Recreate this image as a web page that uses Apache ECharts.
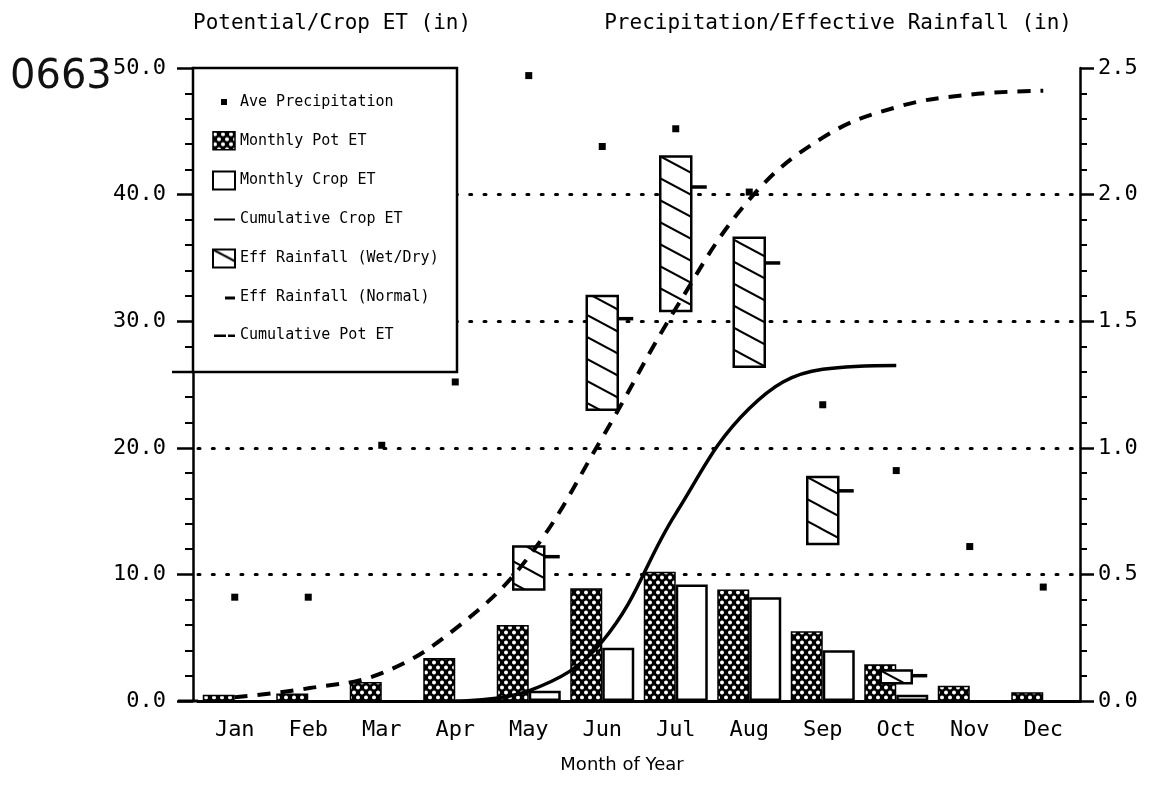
<!DOCTYPE html>
<html>
<head>
<meta charset="utf-8">
<script src="https://cdn.jsdelivr.net/npm/echarts@6/dist/echarts.min.js"></script>
<style>
html, body { margin: 0; padding: 0; background: #fff; }
#main { width: 1151px; height: 797px; }
</style>
</head>
<body>
<div id="main"></div>
<script>
// values
var months = ['Jan', 'Feb', 'Mar', 'Apr', 'May', 'Jun', 'Jul', 'Aug', 'Sep', 'Oct', 'Nov', 'Dec'];
var avePrecip = [0.41, 0.41, 1.01, 1.26, 2.47, 2.19, 2.26, 2.01, 1.17, 0.91, 0.61, 0.45];
var potET = [0.5, 0.6, 1.5, 3.4, 6.0, 8.9, 10.2, 8.8, 5.5, 2.9, 1.2, 0.7];
var cropET = [null, null, null, null, 0.8, 4.2, 9.2, 8.2, 4.0, 0.5, null, null];
var cumCropET = [null, null, null, 0, 0.8, 4.7, 14.8, 23.1, 26.2, 26.5, null, null];
var cumPotET = [0.3, 1.0, 2.2, 5.7, 11.4, 20.8, 31.0, 39.6, 44.5, 46.9, 47.9, 48.2];
var effLow = [null, null, null, null, 0.44, 1.15, 1.54, 1.32, 0.62, 0.07, null, null];
var effHigh = [null, null, null, null, 0.61, 1.60, 2.15, 1.83, 0.885, 0.12, null, null];
var effNormal = [null, null, null, null, 0.57, 1.51, 2.03, 1.73, 0.83, 0.10, null, null];

var GRID = { left: 198, right: 71, top: 68, bottom: 96 };
var MONO = 'DejaVu Sans Mono';

// black cross-hatch with white holes
function dotPattern() {
    var c = document.createElement('canvas');
    c.width = 8; c.height = 10;
    var g = c.getContext('2d');
    g.fillStyle = '#000';
    g.fillRect(0, 0, 8, 10);
    g.fillStyle = '#fff';
    g.beginPath(); g.arc(2, 2.5, 2, 0, Math.PI * 2); g.fill();
    g.beginPath(); g.arc(6, 7.5, 2, 0, Math.PI * 2); g.fill();
    return { image: c, repeat: 'repeat' };
}

// diagonal hatch, lines falling to the right
function hatchPattern() {
    var c = document.createElement('canvas');
    c.width = 41; c.height = 22;
    var g = c.getContext('2d');
    g.fillStyle = '#fff';
    g.fillRect(0, 0, 41, 22);
    g.strokeStyle = '#000';
    g.lineWidth = 2;
    [-22, 0, 22].forEach(function (d) {
        g.beginPath();
        g.moveTo(-41, -22 + d);
        g.lineTo(82, 44 + d);
        g.stroke();
    });
    return { image: c, repeat: 'repeat' };
}

var dots = dotPattern();
var hatch = hatchPattern();

var effData = [];
effLow.forEach(function (v, i) {
    if (v != null) effData.push([i, v, effHigh[i]]);
});

var box = 'M0,0h.01v.01h-.01z M22,18h.01v.01h-.01z ';

var chart = echarts.init(document.getElementById('main'));
chart.setOption({
    backgroundColor: '#fff',
    animation: false,
    grid: GRID,
    legend: {
        orient: 'vertical',
        left: 212,
        top: 93,
        padding: 0,
        itemWidth: 22,
        itemHeight: 18,
        itemGap: 20,
        itemTextGap: 5,
        selectedMode: false,
        z: 10,
        textStyle: { fontFamily: MONO, fontSize: 15, color: '#000' },
        data: [
            { name: 'Ave Precipitation', icon: 'path://' + box + 'M8,6h6v6h-6z', itemStyle: { color: '#000', borderWidth: 0 } },
            { name: 'Monthly Pot ET', icon: 'rect', itemStyle: { color: dots, borderColor: '#000', borderWidth: 1.5 } },
            { name: 'Monthly Crop ET', icon: 'rect', itemStyle: { color: '#fff', borderColor: '#000', borderWidth: 2 } },
            { name: 'Cumulative Crop ET', icon: 'path://' + box + 'M1,8h21v2h-21z', itemStyle: { color: '#000', borderWidth: 0 } },
            { name: 'Eff Rainfall (Wet/Dry)', icon: 'rect', itemStyle: { color: hatch, borderColor: '#000', borderWidth: 2 } },
            { name: 'Eff Rainfall (Normal)', icon: 'path://' + box + 'M12,8h10v3h-10z', itemStyle: { color: '#000', borderWidth: 0 } },
            { name: 'Cumulative Pot ET', icon: 'path://' + box + 'M1,8h12v2.5h-12z M15,8h7v2.5h-7z', itemStyle: { color: '#000', borderWidth: 0 } }
        ]
    },
    xAxis: [{
        type: 'category',
        data: months,
        name: 'Month of Year',
        nameLocation: 'middle',
        nameGap: 55,
        nameTextStyle: { fontFamily: 'DejaVu Sans', fontSize: 18, color: '#000', padding: [0, 34, 0, 0] },
        axisLine: { lineStyle: { color: '#000', width: 3 } },
        axisTick: { show: false },
        axisLabel: { fontFamily: MONO, fontSize: 22, color: '#000', margin: 18 }
    }, {
        type: 'category',
        data: months,
        position: 'top',
        axisLine: { lineStyle: { color: '#000', width: 2.5 } },
        axisTick: { show: false },
        axisLabel: { show: false }
    }],
    yAxis: [{
        type: 'value',
        min: 0,
        max: 50,
        interval: 10,
        offset: 5,
        name: 'Potential/Crop ET (in)',
        nameLocation: 'end',
        nameGap: 34,
        nameTextStyle: { fontFamily: MONO, fontSize: 21, color: '#000', align: 'left' },
        axisLine: { show: true, lineStyle: { color: '#000', width: 2.5 } },
        axisTick: { show: true, length: 16, lineStyle: { color: '#000', width: 2.5 } },
        minorTick: { show: true, splitNumber: 5, length: 8, lineStyle: { color: '#000', width: 2 } },
        axisLabel: {
            fontFamily: MONO, fontSize: 22, color: '#000', margin: 27,
            formatter: function (v) { return v.toFixed(1); }
        },
        splitLine: {
            show: true, showMinLine: false, showMaxLine: false,
            lineStyle: { color: '#000', width: 3, type: [2, 12.3], cap: 'round' }
        }
    }, {
        type: 'value',
        min: 0,
        max: 2.5,
        interval: 0.5,
        position: 'right',
        name: 'Precipitation/Effective Rainfall (in)',
        nameLocation: 'end',
        nameGap: 34,
        nameTextStyle: { fontFamily: MONO, fontSize: 21, color: '#000', align: 'right', padding: [0, 8, 0, 0] },
        axisLine: { show: true, lineStyle: { color: '#000', width: 2.5 } },
        axisTick: { show: true, length: 14, lineStyle: { color: '#000', width: 2.5 } },
        minorTick: { show: true, splitNumber: 5, length: 7, lineStyle: { color: '#000', width: 2 } },
        axisLabel: {
            fontFamily: MONO, fontSize: 22, color: '#000', margin: 18,
            formatter: function (v) { return v.toFixed(1); }
        },
        splitLine: { show: false }
    }],
    series: [{
        name: 'Ave Precipitation',
        type: 'scatter',
        yAxisIndex: 1,
        symbol: 'rect',
        symbolSize: 7,
        itemStyle: { color: '#000', opacity: 1 },
        z: 6,
        data: avePrecip
    }, {
        name: 'Monthly Pot ET',
        type: 'bar',
        barWidth: 32,
        barGap: '0%',
        itemStyle: { color: dots, borderColor: '#000', borderWidth: 1.5 },
        data: potET
    }, {
        name: 'Monthly Crop ET',
        type: 'bar',
        barWidth: 32,
        barGap: '0%',
        itemStyle: { color: '#fff', borderColor: '#000', borderWidth: 2.5 },
        data: cropET
    }, {
        name: 'Cumulative Crop ET',
        type: 'line',
        smooth: 0.4,
        showSymbol: false,
        symbol: 'none',
        z: 5,
        lineStyle: { color: '#000', width: 3.5 },
        itemStyle: { color: '#000' },
        data: cumCropET
    }, {
        name: 'Eff Rainfall (Wet/Dry)',
        type: 'custom',
        yAxisIndex: 1,
        z: 4,
        itemStyle: { color: hatch },
        encode: { x: 0, y: [1, 2] },
        renderItem: function (params, api) {
            var lo = api.coord([api.value(0), api.value(1)]);
            var hi = api.coord([api.value(0), api.value(2)]);
            var w = 31;
            return {
                type: 'rect',
                shape: { x: lo[0] - w / 2, y: hi[1], width: w, height: lo[1] - hi[1] },
                style: { fill: hatch, stroke: '#000', lineWidth: 2.5 }
            };
        },
        data: effData
    }, {
        name: 'Eff Rainfall (Normal)',
        type: 'scatter',
        yAxisIndex: 1,
        symbol: 'rect',
        symbolSize: [16, 3.5],
        symbolOffset: [23, 0],
        z: 6,
        itemStyle: { color: '#000', opacity: 1 },
        data: effNormal
    }, {
        name: 'Cumulative Pot ET',
        type: 'line',
        smooth: 0.4,
        showSymbol: false,
        symbol: 'none',
        z: 5,
        lineStyle: { color: '#000', width: 4, type: [13, 10], cap: 'butt' },
        itemStyle: { color: '#000' },
        data: cumPotET
    }],
    graphic: [{
        type: 'rect',
        z: 8,
        shape: { x: 193, y: 68, width: 264, height: 304 },
        style: { fill: '#fff', stroke: '#000', lineWidth: 2.5 }
    }, {
        type: 'line',
        z: 8,
        shape: { x1: 172, y1: 68 + 304, x2: 193, y2: 68 + 304 },
        style: { stroke: '#000', lineWidth: 2.5 }
    }, {
        type: 'line',
        z: 8,
        shape: { x1: 178, y1: 797 - GRID.bottom, x2: GRID.left, y2: 797 - GRID.bottom },
        style: { stroke: '#000', lineWidth: 3 }
    }, {
        type: 'text',
        z: 8,
        left: 10,
        top: 58,
        style: { text: '0663', fontFamily: 'DejaVu Sans', fontSize: 40, fill: '#111' }
    }]
});
</script>
</body>
</html>
